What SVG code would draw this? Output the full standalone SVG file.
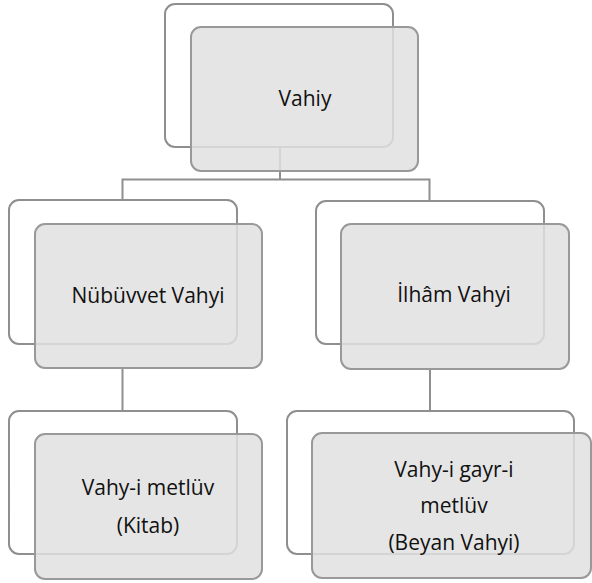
<svg xmlns="http://www.w3.org/2000/svg" width="592" height="583" viewBox="0 0 592 583">
<style>
.back{fill:#ffffff;stroke:#8f8f8f;stroke-width:2}
.front{fill:#e0e0e0;fill-opacity:0.85;stroke:#999999;stroke-width:2}
.conn{fill:none;stroke:#8f8f8f;stroke-width:2}
text{font-family:"Open Sans","Liberation Sans",sans-serif;font-size:21px;fill:#111;text-anchor:middle}
</style>
<rect width="592" height="583" fill="#fff"/>
<g id="connectors">
<path class="conn" d="M280,147 V179.5 M122.5,179.5 H429.5 M122.5,178.5 V200 M429.5,178.5 V201 M122.5,368 V411 M430,369 V411"/>
</g>
<g id="vahiy">
<rect class="back" x="165" y="4" width="228" height="143" rx="10"/>
<rect class="front" x="191" y="27" width="227" height="144" rx="10"/>
<text x="305" y="106">Vahiy</text>
</g>
<g id="nubuvvet">
<rect class="back" x="9" y="200" width="228" height="144" rx="10"/>
<rect class="front" x="35" y="224" width="227" height="144" rx="10"/>
<text x="148" y="303">Nübüvvet Vahyi</text>
</g>
<g id="ilham">
<rect class="back" x="316" y="201" width="228" height="143" rx="10"/>
<rect class="front" x="341" y="224" width="228" height="145" rx="10"/>
<text x="454" y="302">İlhâm Vahyi</text>
</g>
<g id="metluv">
<rect class="back" x="9" y="411" width="228" height="143" rx="10"/>
<rect class="front" x="35" y="434" width="227" height="145" rx="10"/>
<text x="148" y="495">Vahy-i metlüv</text>
<text x="148" y="533">(Kitab)</text>
</g>
<g id="gayrimetluv">
<rect class="back" x="287" y="411" width="287" height="143" rx="10"/>
<rect class="front" x="312" y="433" width="279" height="145" rx="10"/>
<text x="454" y="477">Vahy-i gayr-i</text>
<text x="454" y="513">metlüv</text>
<text x="454" y="550">(Beyan Vahyi)</text>
</g>
</svg>
